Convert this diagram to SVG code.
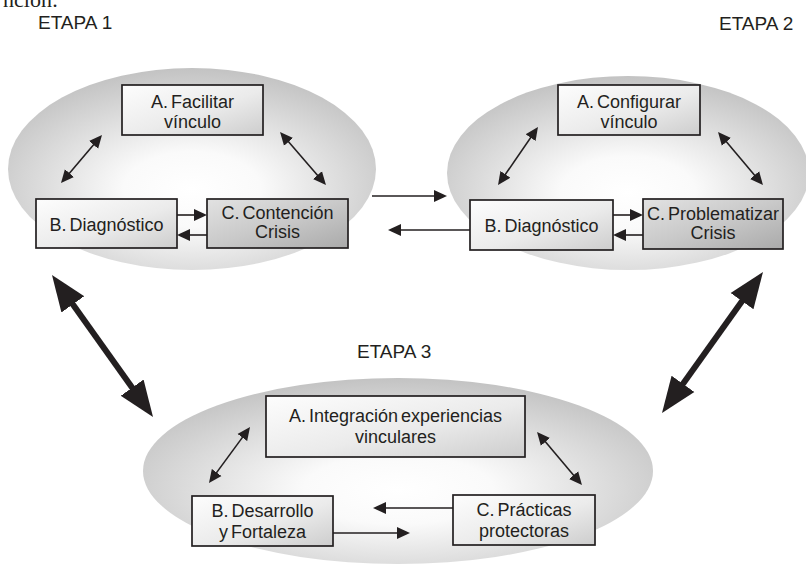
<svg xmlns="http://www.w3.org/2000/svg" width="806" height="564" viewBox="0 0 806 564">
  <defs>
    <radialGradient id="stageFill" cx="0.5" cy="0.6" r="0.62">
      <stop offset="0" stop-color="#ffffff"/>
      <stop offset="0.3" stop-color="#fafafa"/>
      <stop offset="1" stop-color="#c0c0c0"/>
    </radialGradient>
    <linearGradient id="boxLight" x1="0" y1="0" x2="1" y2="1">
      <stop offset="0" stop-color="#fdfdfd"/>
      <stop offset="0.55" stop-color="#ebebeb"/>
      <stop offset="1" stop-color="#cdcdcd"/>
    </linearGradient>
    <linearGradient id="boxDark" x1="0" y1="0" x2="1" y2="1">
      <stop offset="0" stop-color="#e2e2e2"/>
      <stop offset="0.5" stop-color="#c9c9c9"/>
      <stop offset="1" stop-color="#aaaaaa"/>
    </linearGradient>
    <marker id="headSmall" viewBox="-3 -7 14 14" markerWidth="14" markerHeight="14" refX="0" refY="0" orient="auto-start-reverse" markerUnits="userSpaceOnUse">
      <path d="M-3,-6 L10,0 L-3,6 z" fill="#231f20"/>
    </marker>
    <marker id="headBig" viewBox="0 -15 36 30" markerWidth="36" markerHeight="30" refX="2" refY="0" orient="auto-start-reverse" markerUnits="userSpaceOnUse">
      <path d="M0,-14 L36,0 L0,14 z" fill="#231f20"/>
    </marker>
    <style>
      .stage { fill: url(#stageFill); }
      .box { fill: url(#boxLight); stroke: #231f20; stroke-width: 1.7; }
      .box.dark { fill: url(#boxDark); }
      .label { font-family: "Liberation Sans", Arial, sans-serif; font-size: 18px; fill: #231f20; text-anchor: middle; word-spacing: -2px; }
      .title { font-family: "Liberation Sans", Arial, sans-serif; font-size: 19px; fill: #231f20; }
      .link { stroke: #231f20; stroke-width: 1.6; fill: none; }
      .both { marker-start: url(#headSmall); marker-end: url(#headSmall); }
      .one { marker-end: url(#headSmall); }
      .big { stroke: #231f20; stroke-width: 6; fill: none; marker-start: url(#headBig); marker-end: url(#headBig); }
    </style>
  </defs>

  <rect width="806" height="564" fill="#ffffff"/>

  <!-- running text from the preceding paragraph, cut at the top edge -->
  <text x="3" y="7" font-family="'Liberation Serif', 'Times New Roman', serif" font-size="22" fill="#231f20">nción:</text>

  <!-- stage backgrounds -->
  <ellipse class="stage" cx="192" cy="169" rx="184" ry="101"/>
  <ellipse class="stage" cx="628" cy="173" rx="181" ry="97"/>
  <ellipse class="stage" cx="398" cy="471" rx="255" ry="93"/>

  <!-- stage titles -->
  <text class="title" x="38" y="29">ETAPA 1</text>
  <text class="title" x="719" y="30">ETAPA 2</text>
  <text class="title" x="357" y="358">ETAPA 3</text>

  <!-- connectors -->
  <g id="connectors">
    <!-- stage 1 -->
    <line class="link both" x1="95.5" y1="142.6" x2="67.5" y2="175.4"/>
    <line class="link both" x1="286.6" y1="139.6" x2="319.4" y2="177.4"/>
    <line class="link one" x1="177" y1="215" x2="197" y2="215"/>
    <line class="link one" x1="207" y1="235" x2="187" y2="235"/>
    <!-- between stage 1 and stage 2 -->
    <line class="link one" x1="372" y1="196" x2="437" y2="196"/>
    <line class="link one" x1="470" y1="230" x2="398" y2="230"/>
    <!-- stage 2 -->
    <line class="link both" x1="532.3" y1="135.2" x2="503.7" y2="176.8"/>
    <line class="link both" x1="724.5" y1="139.6" x2="756.5" y2="177.4"/>
    <line class="link one" x1="613" y1="215" x2="633" y2="215"/>
    <line class="link one" x1="643" y1="235" x2="623" y2="235"/>
    <!-- stage 3 -->
    <line class="link both" x1="244.1" y1="435.1" x2="214.9" y2="474.9"/>
    <line class="link both" x1="543.5" y1="439.6" x2="575.5" y2="477.4"/>
    <line class="link one" x1="453" y1="508" x2="383" y2="508"/>
    <line class="link one" x1="333" y1="533" x2="400" y2="533"/>
    <!-- links between stages -->
    <line class="big" x1="71.7" y1="302.7" x2="133.3" y2="389.3"/>
    <line class="big" x1="743.2" y1="299.6" x2="681.8" y2="385.4"/>
  </g>

  <!-- stage 1 nodes -->
  <g id="s1-facilitar">
    <rect class="box" x="122" y="85" width="141" height="50"/>
    <text class="label" x="192.5" y="108">A. Facilitar</text>
    <text class="label" x="192.5" y="128">vínculo</text>
  </g>
  <g id="s1-diagnostico">
    <rect class="box" x="36" y="199" width="141" height="49"/>
    <text class="label" x="106.5" y="231">B. Diagnóstico</text>
  </g>
  <g id="s1-contencion">
    <rect class="box dark" x="207" y="199" width="141" height="49"/>
    <text class="label" x="277.5" y="219">C. Contención</text>
    <text class="label" x="277.5" y="238">Crisis</text>
  </g>

  <!-- stage 2 nodes -->
  <g id="s2-configurar">
    <rect class="box" x="558" y="85" width="142" height="50"/>
    <text class="label" x="629" y="108">A. Configurar</text>
    <text class="label" x="629" y="128">vínculo</text>
  </g>
  <g id="s2-diagnostico">
    <rect class="box" x="470" y="200" width="143" height="50"/>
    <text class="label" x="541.5" y="232">B. Diagnóstico</text>
  </g>
  <g id="s2-problematizar">
    <rect class="box dark" x="643" y="199" width="140" height="50"/>
    <text class="label" x="713" y="220">C. Problematizar</text>
    <text class="label" x="713" y="239">Crisis</text>
  </g>

  <!-- stage 3 nodes -->
  <g id="s3-integracion">
    <rect class="box" x="266" y="396" width="259" height="61"/>
    <text class="label" x="395.5" y="422">A. Integración experiencias</text>
    <text class="label" x="395.5" y="443">vinculares</text>
  </g>
  <g id="s3-desarrollo">
    <rect class="box" x="192" y="496" width="141" height="50"/>
    <text class="label" x="262.5" y="517">B. Desarrollo</text>
    <text class="label" x="262.5" y="538">y Fortaleza</text>
  </g>
  <g id="s3-practicas">
    <rect class="box" x="453" y="495" width="142" height="50"/>
    <text class="label" x="524" y="516">C. Prácticas</text>
    <text class="label" x="524" y="537">protectoras</text>
  </g>
</svg>
